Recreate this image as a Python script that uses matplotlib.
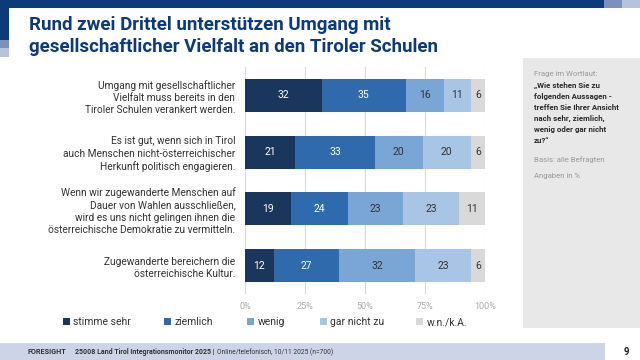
import matplotlib.pyplot as plt
from matplotlib.patches import Rectangle
import numpy as np

# ----------- DATA -------------
statements = [
    "Umgang mit gesellschaftlicher\nVielfalt muss bereits in den\nTiroler Schulen verankert werden.",
    "Es ist gut, wenn sich in Tirol\nauch Menschen nicht-österreichischer\nHerkunft politisch engagieren.",
    "Wenn wir zugewanderte Menschen auf\nDauer von Wahlen ausschließen,\nwird es uns nicht gelingen ihnen die\nösterreichische Demokratie zu vermitteln.",
    "Zugewanderte bereichern die\nösterreichische Kultur.",
]
categories = ["stimme sehr", "ziemlich", "wenig", "gar nicht zu", "w.n./k.A."]
stimme_sehr = [32, 21, 19, 12]
ziemlich = [35, 33, 24, 27]
wenig = [16, 20, 23, 32]
gar_nicht = [11, 20, 23, 23]
wn_ka = [6, 6, 11, 6]
tick_vals = [0, 25, 50, 75, 100]
tick_labels = ["0%", "25%", "50%", "75%", "100%"]
# ------------------------------

colors = ["#1b365d", "#2f6aad", "#7aa6d6", "#a9c5e6", "#d9d9d9"]
text_colors = ["white", "white", "#333333", "#333333", "#333333"]
navy = "#0d3a78"
legend_x = [67, 168, 251, 324, 420]  # px positions of the legend squares

plt.rcParams['font.family'] = ['Roboto', 'DejaVu Sans']

W, H = 640, 360
fig = plt.figure(figsize=(6.4, 3.6), dpi=100)
fig.patch.set_facecolor("white")


def px(x, y):
    return x / W, 1 - y / H


def rect(x0, y0, x1, y1, color, z=0):
    fig.patches.append(Rectangle((x0 / W, 1 - y1 / H), (x1 - x0) / W, (y1 - y0) / H,
                                 transform=fig.transFigure, color=color, zorder=z, lw=0))


# decorations
rect(0, 0, 604, 8, navy)
rect(604, 0, 622, 8, "#7d8fbd")
rect(622, 0, 640, 8, "#b9c2dc")
rect(0, 0, 9, 40, navy)
rect(0, 40, 9, 48, "#7d8fbd")
rect(0, 48, 9, 57, "#b9c2dc")
rect(523, 58, 640, 328, "#e8e8e8")
rect(0, 343, 605, 360, "#cdd4e7")

# title
fig.text(*px(29, 30), "Rund zwei Drittel unterstützen Umgang mit",
         fontsize=13.5, fontweight="bold", color=navy, va="baseline", ha="left")
fig.text(*px(29, 52), "gesellschaftlicher Vielfalt an den Tiroler Schulen",
         fontsize=13.5, fontweight="bold", color=navy, va="baseline", ha="left")

# bars
ax = fig.add_axes([245 / W, 1 - 294 / H, 240 / W, 227 / H])
y = np.arange(len(statements))
series = [stimme_sehr, ziemlich, wenig, gar_nicht, wn_ka]
left = np.zeros(len(statements))
for vals, c, tc, name in zip(series, colors, text_colors, categories):
    vals = np.array(vals)
    ax.barh(y, vals, left=left, height=0.58, color=c, label=name, zorder=2)
    for yi, (l, v) in enumerate(zip(left, vals)):
        ax.text(l + v / 2, yi, str(v), ha="center", va="center", fontsize=7.5, color=tc, zorder=3)
    left += vals

ax.set_xlim(0, 100)
ax.set_ylim(len(statements) - 0.5, -0.5)
ax.set_xticks(tick_vals)
ax.set_xticklabels(tick_labels, fontsize=6.5, color="#aaaaaa")
ax.tick_params(axis="x", length=0, pad=6)
ax.set_yticks(y)
ax.set_yticklabels(statements, fontsize=7.3, color="#333333", linespacing=1.3)
ax.tick_params(axis="y", length=0, pad=7)
ax.grid(axis="x", color="#d9d9d9", lw=0.8, zorder=0)
for s in ax.spines.values():
    s.set_visible(False)

# legend, one entry per fixed position
handles, labels = ax.get_legend_handles_labels()
for h, lab, lx in zip(handles, labels, legend_x):
    fig.legend([h], [lab], loc="center left", bbox_to_anchor=px(lx - 4, 322),
               frameon=False, fontsize=7.5, handlelength=0.7, handleheight=0.7,
               handletextpad=0.3, labelcolor="#333333", borderpad=0, borderaxespad=0)

# side panel
fig.text(*px(534, 74), "Frage im Wortlaut:", fontsize=5.6, color="#999999", va="center")
fig.text(*px(534, 82), "\u201eWie stehen Sie zu\nfolgenden Aussagen -\ntreffen Sie Ihrer Ansicht\nnach sehr, ziemlich,\nwenig oder gar nicht\nzu?\u201c",
         fontsize=5.7, color="#2a2a2a", va="top", linespacing=1.65, fontweight="bold")
fig.text(*px(534, 160), "Basis: alle Befragten", fontsize=5.6, color="#999999", va="center")
fig.text(*px(534, 176), "Angaben in %", fontsize=5.6, color="#999999", va="center")

# footer
fig.text(*px(28, 352), "FORESIGHT", fontsize=5.2, fontweight="bold", color="#333333", va="center")
fig.text(*px(75, 352), "25008 Land Tirol Integrationsmonitor 2025 |", fontsize=5.0, fontweight="bold",
         color="#333333", va="center")
fig.text(*px(217, 352), "Online/telefonisch, 10/11 2025 (n=700)", fontsize=4.8, color="#333333", va="center")
fig.text(*px(626, 352), "9", fontsize=7, fontweight="bold", color="#222222", va="center", ha="center")

fig.savefig("out.png", dpi=100)
